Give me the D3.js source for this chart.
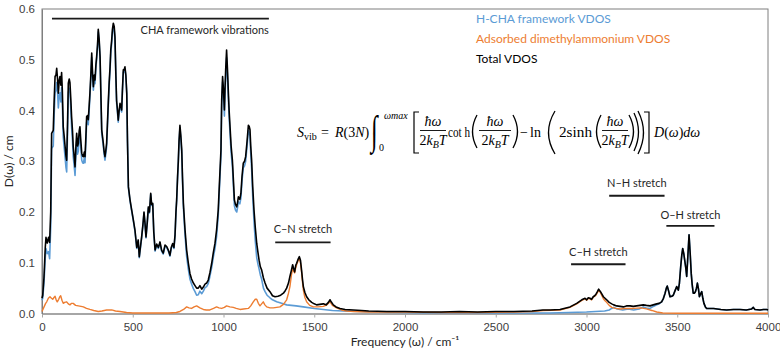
<!DOCTYPE html>
<html>
<head>
<meta charset="utf-8">
<script src="https://cdn.jsdelivr.net/npm/d3@7"></script>
<style>
  body { margin: 0; background: #fff; }
  svg { display: block; font-family: Lato, "Noto Sans", sans-serif; }
</style>
</head>
<body>
<svg id="chart" width="780" height="350"></svg>
<script>
// ---- data: [frequency (cm^-1), D(ω)] ----
const totalVdos = [
  [0,0.03],[4,0.036],[11,0.072],[18,0.13],[22,0.15],[29,0.139],[36,0.15],[42,0.14],[48,0.2],[53,0.355],[62,0.361],[67,0.42],[72,0.467],[77,0.47],[81,0.483],[86,0.46],[90,0.434],[95,0.46],[99,0.467],[104,0.45],[108,0.475],[112,0.44],[117,0.368],[122,0.35],[127,0.33],[132,0.31],[136,0.302],[141,0.38],[145,0.454],[150,0.462],[154,0.455],[159,0.42],[163,0.388],[168,0.36],[172,0.329],[177,0.31],[182,0.289],[187,0.33],[191,0.355],[196,0.33],[200,0.335],[205,0.36],[209,0.368],[214,0.34],[219,0.316],[224,0.31],[228,0.309],[233,0.318],[237,0.309],[242,0.35],[246,0.388],[251,0.39],[255,0.382],[260,0.41],[264,0.434],[269,0.47],[274,0.513],[279,0.47],[283,0.447],[288,0.47],[292,0.46],[297,0.49],[301,0.506],[306,0.53],[310,0.56],[315,0.54],[320,0.506],[324,0.44],[329,0.362],[333,0.35],[338,0.335],[342,0.32],[347,0.309],[351,0.32],[356,0.335],[360,0.37],[365,0.414],[370,0.455],[375,0.486],[379,0.52],[384,0.539],[388,0.56],[393,0.572],[398,0.565],[402,0.545],[407,0.47],[411,0.42],[416,0.4],[420,0.381],[425,0.4],[430,0.414],[434,0.41],[439,0.401],[443,0.44],[448,0.48],[452,0.48],[457,0.486],[462,0.47],[467,0.434],[471,0.34],[476,0.25],
  [485,0.224],[494,0.204],[503,0.185],[512,0.165],[522,0.13],[530,0.145],[536,0.112],[542,0.13],[549,0.151],[556,0.175],[562,0.2],[567,0.18],[573,0.151],[580,0.18],[586,0.21],[592,0.2],[599,0.237],[604,0.215],[610,0.217],[616,0.16],[623,0.125],[632,0.137],[641,0.13],[650,0.141],[659,0.125],[668,0.119],[678,0.135],[687,0.132],[696,0.125],[705,0.115],[712,0.13],[720,0.138],[727,0.13],[733,0.155],[738,0.2],
  [742,0.224],[747,0.27],[751,0.3],[755,0.34],[760,0.371],[765,0.35],[770,0.322],[774,0.27],[779,0.217],[788,0.165],[797,0.125],[806,0.1],[815,0.079],[824,0.068],[834,0.06],[843,0.055],[852,0.05],[861,0.05],[870,0.055],[880,0.048],[889,0.052],[898,0.058],[907,0.06],[916,0.066],[925,0.08],[935,0.099],[944,0.12],[953,0.138],[962,0.165],[971,0.204],[978,0.26],[986,0.322],[990,0.42],[995,0.467],[1000,0.44],[1005,0.401],[1008,0.44],[1012,0.48],[1017,0.519],[1022,0.48],[1027,0.434],[1031,0.4],[1036,0.368],[1042,0.33],[1049,0.302],[1055,0.26],[1060,0.224],[1066,0.215],[1073,0.21],[1078,0.22],[1082,0.23],[1090,0.225],[1096,0.237],[1102,0.27],[1109,0.296],[1116,0.3],[1122,0.309],[1130,0.34],[1137,0.371],[1142,0.368],[1146,0.362],[1150,0.33],[1155,0.302],[1161,0.25],[1168,0.204],[1175,0.17],[1183,0.138],[1190,0.12],[1196,0.105],[1203,0.092],[1210,0.086],[1220,0.07],[1229,0.06],[1240,0.05],[1256,0.043],[1270,0.035],[1284,0.033],[1300,0.034],[1315,0.036],[1330,0.04],[1340,0.045],[1348,0.05],[1358,0.06],[1366,0.073],[1374,0.085],[1381,0.096],[1387,0.088],[1392,0.082],[1398,0.095],[1403,0.099],[1410,0.106],[1418,0.112],[1424,0.105],[1430,0.086],[1435,0.068],[1440,0.053],[1448,0.042],[1458,0.033],[1470,0.027],[1486,0.022],[1500,0.019],[1513,0.017],[1530,0.018],[1550,0.019],[1565,0.017],[1578,0.022],[1587,0.027],[1595,0.022],[1605,0.017],[1620,0.013],[1642,0.01],[1670,0.008],[1715,0.007],[1760,0.006],[1800,0.005],[1900,0.004],[2000,0.004],[2100,0.003],[2200,0.003],[2300,0.004],[2400,0.003],[2500,0.004],[2600,0.004],[2700,0.005],[2760,0.007],[2800,0.007],[2854,0.008],[2909,0.013],[2946,0.02],[2974,0.027],[2992,0.03],[3001,0.027],[3010,0.031],[3019,0.03],[3028,0.028],[3037,0.033],[3045,0.035],[3052,0.038],[3060,0.043],[3067,0.048],[3077,0.043],[3085,0.038],[3093,0.033],[3102,0.03],[3111,0.027],[3125,0.022],[3139,0.019],[3150,0.017],[3166,0.015],[3185,0.014],[3203,0.013],[3220,0.015],[3240,0.015],[3258,0.014],[3276,0.015],[3295,0.016],[3313,0.017],[3330,0.016],[3350,0.015],[3368,0.017],[3387,0.019],[3400,0.02],[3414,0.023],[3424,0.03],[3433,0.04],[3440,0.05],[3445,0.054],[3452,0.045],[3460,0.033],[3470,0.034],[3478,0.036],[3488,0.045],[3497,0.053],[3506,0.046],[3512,0.06],[3519,0.092],[3525,0.115],[3530,0.128],[3536,0.118],[3541,0.105],[3547,0.09],[3552,0.073],[3558,0.11],[3565,0.155],[3571,0.12],[3577,0.079],[3582,0.058],[3588,0.04],[3594,0.04],[3600,0.043],[3606,0.05],[3611,0.06],[3617,0.048],[3622,0.033],[3628,0.038],[3635,0.043],[3641,0.03],[3647,0.02],[3655,0.013],[3662,0.01],[3680,0.01],[3700,0.01],[3740,0.008],[3772,0.007],[3810,0.008],[3846,0.008],[3880,0.007],[3910,0.009],[3919,0.012],[3928,0.008],[3956,0.007],[3975,0.008],[3993,0.008],[4000,0.007]
];

const frameworkVdos = [
  [0,0.026],[4,0.03],[11,0.06],[18,0.11],[22,0.128],[29,0.118],[36,0.122],[42,0.108],[48,0.17],[53,0.325],[62,0.33],[67,0.39],[72,0.435],[77,0.44],[81,0.455],[86,0.435],[90,0.405],[95,0.43],[99,0.435],[104,0.417],[108,0.445],[112,0.415],[117,0.348],[122,0.328],[127,0.308],[132,0.288],[136,0.279],[141,0.36],[145,0.435],[150,0.444],[154,0.438],[159,0.4],[163,0.368],[168,0.34],[172,0.309],[177,0.292],[182,0.272],[187,0.314],[191,0.339],[196,0.314],[200,0.32],[205,0.345],[209,0.353],[214,0.326],[219,0.302],[224,0.297],[228,0.296],[233,0.306],[237,0.297],[242,0.339],[246,0.377],[251,0.38],[255,0.372],[260,0.401],[264,0.426],[269,0.462],[274,0.505],[279,0.463],[283,0.44],[288,0.463],[292,0.453],[297,0.484],[301,0.5],[306,0.525],[310,0.555],[315,0.535],[320,0.5],[324,0.434],[329,0.356],[333,0.344],[338,0.329],[342,0.314],[347,0.302],[351,0.313],[356,0.328],[360,0.363],[365,0.407],[370,0.448],[375,0.479],[379,0.513],[384,0.532],[388,0.553],[393,0.565],[398,0.558],[402,0.539],[407,0.464],[411,0.415],[416,0.395],[420,0.377],[425,0.396],[430,0.41],[434,0.406],[439,0.397],[443,0.436],[448,0.476],[452,0.476],[457,0.482],[462,0.467],[467,0.432],[471,0.338],[476,0.248],
  [485,0.222],[494,0.202],[503,0.183],[512,0.163],[522,0.128],[530,0.143],[536,0.11],[542,0.128],[549,0.149],[556,0.173],[562,0.198],[567,0.178],[573,0.149],[580,0.178],[586,0.208],[592,0.198],[599,0.235],[604,0.213],[610,0.215],[616,0.158],[623,0.123],[632,0.135],[641,0.128],[650,0.139],[659,0.123],[668,0.117],[678,0.133],[687,0.13],[696,0.123],[705,0.113],[712,0.128],[720,0.136],[727,0.128],[733,0.153],[738,0.197],
  [742,0.222],[747,0.267],[751,0.297],[755,0.336],[760,0.366],[765,0.344],[770,0.315],[774,0.262],[779,0.209],[788,0.155],[797,0.112],[806,0.088],[815,0.068],[824,0.058],[834,0.049],[843,0.043],[852,0.036],[861,0.037],[870,0.044],[880,0.039],[889,0.044],[898,0.051],[907,0.053],[916,0.059],[925,0.073],[935,0.091],[944,0.111],[953,0.128],[962,0.152],[971,0.192],[978,0.249],[986,0.311],[990,0.41],[995,0.456],[1000,0.429],[1005,0.389],[1008,0.427],[1012,0.466],[1017,0.504],[1022,0.466],[1027,0.421],[1031,0.387],[1036,0.355],[1042,0.317],[1049,0.29],[1055,0.248],[1060,0.212],[1066,0.204],[1073,0.2],[1078,0.21],[1082,0.22],[1090,0.216],[1096,0.228],[1102,0.261],[1109,0.287],[1116,0.291],[1122,0.3],[1130,0.33],[1137,0.361],[1142,0.356],[1146,0.349],[1150,0.316],[1155,0.285],[1161,0.23],[1168,0.182],[1175,0.143],[1183,0.11],[1190,0.097],[1196,0.088],[1203,0.076],[1210,0.068],[1220,0.05],[1229,0.043],[1240,0.036],[1256,0.031],[1270,0.027],[1293,0.023],[1320,0.02],[1348,0.017],[1400,0.015],[1440,0.013],[1500,0.01],[1550,0.008],[1600,0.006],[1660,0.005],[1750,0.004],[1850,0.003],[2000,0.002],[2200,0.001],[2400,0.001],[2600,0.001],[2800,0.001],[2900,0.002],[3000,0.003],[3050,0.004],[3100,0.005],[3125,0.007],[3139,0.01],[3150,0.012],[3170,0.009],[3200,0.007],[3230,0.009],[3260,0.007],[3290,0.009],[3313,0.013],[3330,0.011],[3350,0.01],[3368,0.014],[3387,0.017],[3400,0.019],[3414,0.023],[3424,0.03],[3433,0.04],[3440,0.05],[3445,0.054],[3452,0.045],[3460,0.033],[3470,0.034],[3478,0.036],[3488,0.045],[3497,0.053],[3506,0.046],[3512,0.06],[3519,0.092],[3525,0.115],[3530,0.128],[3536,0.118],[3541,0.105],[3547,0.09],[3552,0.073],[3558,0.11],[3565,0.155],[3571,0.12],[3577,0.079],[3582,0.058],[3588,0.04],[3594,0.04],[3600,0.043],[3606,0.05],[3611,0.06],[3617,0.048],[3622,0.033],[3628,0.038],[3635,0.043],[3641,0.03],[3647,0.02],[3655,0.013],[3662,0.01],[3680,0.01],[3700,0.01],[3740,0.008],[3772,0.007],[3810,0.008],[3846,0.008],[3880,0.007],[3910,0.009],[3919,0.012],[3928,0.008],[3956,0.007],[3975,0.008],[3993,0.008],[4000,0.007]
];

const adsorbedVdos = [
  [0,0.004],[10,0.012],[20,0.02],[26,0.023],[35,0.03],[44,0.033],[52,0.03],[59,0.028],[65,0.031],[72,0.034],[78,0.027],[84,0.023],[92,0.028],[98,0.033],[103,0.035],[110,0.026],[117,0.02],[125,0.022],[136,0.023],[145,0.019],[154,0.017],[163,0.02],[172,0.02],[185,0.016],[200,0.015],[215,0.014],[228,0.013],[245,0.01],[264,0.008],[285,0.006],[310,0.004],[330,0.005],[356,0.007],[384,0.007],[405,0.005],[430,0.004],[466,0.002],[500,0.001],[600,0.001],[700,0.001],[740,0.002],[760,0.004],[780,0.008],[797,0.013],[810,0.011],[824,0.01],[838,0.013],[852,0.015],[870,0.011],[889,0.008],[905,0.007],[925,0.007],[945,0.01],[962,0.013],[975,0.011],[990,0.01],[1005,0.012],[1017,0.015],[1035,0.013],[1054,0.012],[1070,0.01],[1091,0.008],[1110,0.009],[1137,0.01],[1150,0.015],[1164,0.023],[1175,0.028],[1183,0.028],[1192,0.02],[1201,0.015],[1210,0.019],[1219,0.023],[1228,0.017],[1238,0.013],[1256,0.011],[1274,0.011],[1293,0.012],[1311,0.013],[1330,0.018],[1348,0.027],[1358,0.04],[1366,0.053],[1374,0.075],[1381,0.089],[1387,0.083],[1392,0.08],[1398,0.09],[1403,0.096],[1410,0.103],[1418,0.109],[1424,0.1],[1430,0.082],[1435,0.062],[1440,0.046],[1448,0.032],[1458,0.023],[1475,0.016],[1495,0.013],[1520,0.013],[1550,0.014],[1570,0.017],[1587,0.023],[1600,0.016],[1623,0.011],[1650,0.007],[1678,0.005],[1720,0.004],[1800,0.003],[1900,0.003],[2000,0.003],[2200,0.002],[2400,0.002],[2600,0.003],[2700,0.004],[2760,0.006],[2854,0.007],[2909,0.012],[2946,0.019],[2974,0.026],[2992,0.029],[3001,0.026],[3010,0.03],[3019,0.029],[3028,0.027],[3037,0.032],[3045,0.034],[3052,0.036],[3060,0.041],[3067,0.046],[3077,0.041],[3085,0.035],[3093,0.029],[3102,0.025],[3111,0.022],[3125,0.016],[3139,0.012],[3160,0.01],[3185,0.009],[3220,0.01],[3260,0.01],[3300,0.011],[3330,0.009],[3360,0.006],[3387,0.003],[3420,0.001],[3500,0.0005],[4000,0.0005]
];

const xTicks = [0, 500, 1000, 1500, 2000, 2500, 3000, 3500, 4000];
const yTicks = [0, 0.1, 0.2, 0.3, 0.4, 0.5, 0.6];

const legendItems = [
  { label: 'H-CHA framework VDOS', color: '#5b9bd5' },
  { label: 'Adsorbed dimethylammonium VDOS', color: '#ed7d31' },
  { label: 'Total VDOS', color: '#000000' }
];

// band annotations: line from/to in cm^-1 at height y, label baseline at ty
const bands = [
  { label: 'CHA framework vibrations', from: 55, to: 1250, y: 0.581, ty: 0.551, anchor: 'end', tx: 1250 },
  { label: 'C\u2013N stretch', from: 1285, to: 1590, y: 0.140, ty: 0.159 },
  { label: 'C\u2013H stretch', from: 2915, to: 3215, y: 0.097, ty: 0.114 },
  { label: 'N\u2013H stretch', from: 3125, to: 3430, y: 0.232, ty: 0.250 },
  { label: 'O\u2013H stretch', from: 3440, to: 3705, y: 0.1725, ty: 0.186 }
];

// ---- chart ----
const svg = d3.select('#chart');
const margin = { top: 9, right: 12, bottom: 36.5, left: 42 };
const width = 780, height = 350;

const x = d3.scaleLinear().domain([0, 4000]).range([margin.left, width - margin.right]);
const y = d3.scaleLinear().domain([0, 0.6]).range([height - margin.bottom, margin.top]);

// plot-area border
svg.append('rect')
  .attr('x', x(0)).attr('y', y(0.6))
  .attr('width', x(4000) - x(0)).attr('height', y(0) - y(0.6))
  .attr('fill', 'none').attr('stroke', '#7f7f7f').attr('stroke-width', 1);

const xAxis = svg.append('g')
  .attr('transform', `translate(0,${y(0)})`)
  .call(d3.axisBottom(x).tickValues(xTicks).tickSize(4).tickSizeOuter(0).tickFormat(d3.format('d')));
xAxis.select('.domain').attr('stroke', '#a6a6a6').attr('stroke-width', 1.8);
xAxis.selectAll('.tick line').attr('stroke', '#a6a6a6');
xAxis.selectAll('.tick text').attr('dy', '0.71em').attr('y', 9)
  .style('font-size', '11.5px').attr('fill', '#404040');

const yAxis = svg.append('g')
  .attr('transform', `translate(${x(0)},0)`)
  .call(d3.axisLeft(y).tickValues(yTicks).tickSize(0).tickFormat(d3.format('.1f')));
yAxis.select('.domain').attr('stroke', '#7f7f7f');
yAxis.selectAll('.tick text').attr('x', -7)
  .style('font-size', '11.5px').attr('fill', '#404040');

svg.append('text')
  .attr('x', (x(0) + x(4000)) / 2).attr('y', 346)
  .attr('text-anchor', 'middle')
  .style('font-size', '12px').attr('fill', '#262626')
  .text('Frequency (\u03c9) / cm\u207b\u00b9');

svg.append('text')
  .attr('transform', `translate(13,${(y(0) + y(0.6)) / 2}) rotate(-90)`)
  .attr('text-anchor', 'middle')
  .style('font-size', '12px').attr('fill', '#262626')
  .text('D(\u03c9) / cm');

// lines
const line = d3.line().x(d => x(d[0])).y(d => y(d[1]));
const series = [
  { data: frameworkVdos, color: '#5b9bd5', w: 1.6 },
  { data: adsorbedVdos, color: '#ed7d31', w: 1.4 },
  { data: totalVdos, color: '#000000', w: 1.6 }
];
svg.append('g').selectAll('path')
  .data(series)
  .join('path')
  .attr('d', d => line(d.data))
  .attr('fill', 'none')
  .attr('stroke', d => d.color)
  .attr('stroke-width', d => d.w)
  .attr('stroke-linejoin', 'round');

// legend (text only)
svg.append('g').selectAll('text')
  .data(legendItems)
  .join('text')
  .attr('x', 476)
  .attr('y', (d, i) => 23 + i * 20)
  .style('font-size', '12px')
  .attr('fill', d => d.color)
  .text(d => d.label);

// band annotations
const bandG = svg.append('g');
bands.forEach(b => {
  bandG.append('line')
    .attr('x1', x(b.from)).attr('x2', x(b.to))
    .attr('y1', y(b.y)).attr('y2', y(b.y))
    .attr('stroke', '#1a1a1a').attr('stroke-width', 1.8);
  bandG.append('text')
    .attr('x', b.anchor === 'end' ? x(b.tx) : (x(b.from) + x(b.to)) / 2)
    .attr('y', y(b.ty))
    .attr('text-anchor', b.anchor || 'middle')
    .style('font-size', '11px').attr('fill', '#262626')
    .text(b.label);
});

// ---- S_vib formula ----
const f = svg.append('g').style('font-family', '"Liberation Serif", "DejaVu Serif", serif')
  .attr('fill', '#000');
const base = 137;

function t(xp, yp, size, parts, anchor) {
  const el = f.append('text').attr('x', xp).attr('y', yp)
    .style('font-size', size + 'px')
    .attr('text-anchor', anchor || 'start');
  parts.forEach(p => {
    const s = typeof p === 'string' ? { s: p } : p;
    const ts = el.append('tspan').text(s.s);
    if (s.i) ts.style('font-style', 'italic');
    if (s.sz) ts.style('font-size', s.sz + 'px');
    if (s.dy) ts.attr('dy', s.dy);
  });
  return el;
}

function frac(cx, half) {
  t(cx, 126, 14, [{ s: '\u0127\u03c9', i: true }], 'middle');
  f.append('line').attr('x1', cx - half).attr('x2', cx + half)
    .attr('y1', 130.5).attr('y2', 130.5).attr('stroke', '#000').attr('stroke-width', 0.9);
  t(cx, 145, 14, ['2', { s: 'k', i: true }, { s: 'B', i: true, sz: 10, dy: 3 }, { s: 'T', i: true, dy: -3 }], 'middle');
}

// curved delimiter: xp = inner edge, bulge > 0 bends right
function paren(xp, top, bottom, bulge) {
  const mid = (top + bottom) / 2;
  f.append('path')
    .attr('d', `M${xp},${top} Q${xp + bulge},${mid} ${xp},${bottom}`)
    .attr('fill', 'none').attr('stroke', '#000').attr('stroke-width', 1.3);
}

function bracket(xp, top, bottom, right) {
  const s = right ? -5 : 5;
  f.append('path')
    .attr('d', `M${xp + s},${top} H${xp} V${bottom} H${xp + s}`)
    .attr('fill', 'none').attr('stroke', '#000').attr('stroke-width', 1.2);
}

t(297, base, 14, [{ s: 'S', i: true }, { s: 'vib', sz: 10, dy: 3 }]);
t(321, base, 14, ['=']);
t(335, base, 14, [{ s: 'R', i: true }, '(3', { s: 'N', i: true }, ')']);
f.append('text')
  .attr('transform', 'translate(371,144) scale(1,1.7)')
  .style('font-size', '24px')
  .text('\u222b');
t(384, 119, 10, [{ s: '\u03c9', i: true }, { s: 'max', i: true }]);
t(379, 151, 10, ['0']);
bracket(414, 112, 153, false);
frac(433, 13);
t(448, base, 14, ['cot h']).attr('textLength', 22).attr('lengthAdjust', 'spacingAndGlyphs');
paren(477, 115, 148, -9);
frac(495, 16);
paren(513, 115, 148, 9);
t(520, base, 14, ['\u2212']);
t(530, base, 14, ['ln']);
paren(555, 111, 154, -13);
t(559, base, 14, ['2sinh']).attr('textLength', 33).attr('lengthAdjust', 'spacingAndGlyphs');
paren(601, 115, 148, -9);
frac(615, 13);
paren(629, 115, 148, 9);
paren(634, 113, 151, 9);
paren(638, 111, 154, 11);
bracket(649, 112, 153, true);
t(654, base, 14, [{ s: 'D', i: true }, '(', { s: '\u03c9', i: true }, ')', { s: 'd\u03c9', i: true }]);
</script>
</body>
</html>
